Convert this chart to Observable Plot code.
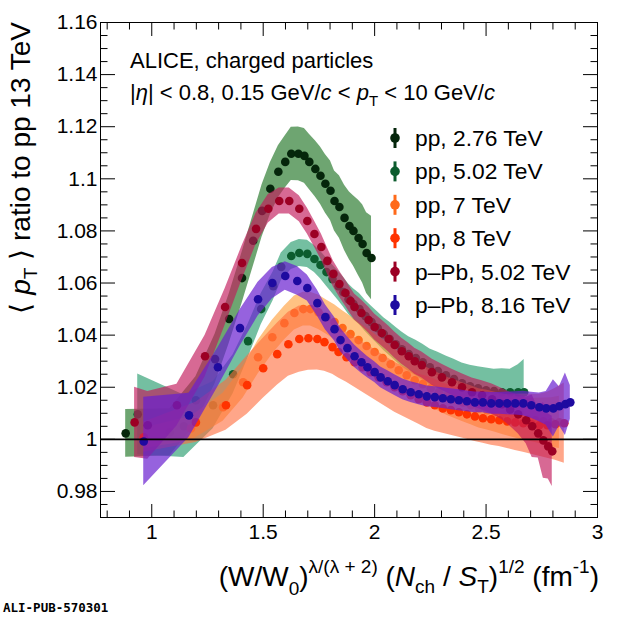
<!DOCTYPE html>
<html><head><meta charset="utf-8">
<script src="https://cdn.jsdelivr.net/npm/d3@7"></script>
<script src="https://cdn.jsdelivr.net/npm/@observablehq/plot@0.6"></script>
<style>
body{margin:0;background:#fff;}
#wrap{position:relative;width:620px;height:620px;font-family:"Liberation Sans",Arial,Helvetica,sans-serif;}
#wrap svg{position:absolute;left:0;top:0;display:block;}
</style></head><body><div id="wrap"></div>
<script>
// ---- data ----
const seriesNames = ["pp, 2.76 TeV","pp, 5.02 TeV","pp, 7 TeV","pp, 8 TeV","p\u2013Pb, 5.02 TeV","p\u2013Pb, 8.16 TeV"];
const markerColors = ["#05260b","#0c5c2e","#ff6a1a","#ff3300","#9c0024","#1e0aa0"];
const bandColors = ["#2a7a2e","#2a9d6f","#ff9a30","#ff6a3a","#c2185b","#6a1fd0"];
const bandOpacity = [0.68,0.65,0.6,0.6,0.65,0.7];

const pp276X = [0.883,1.081,1.198,1.284,1.347,1.405,1.455,1.495,1.532,1.568,1.599,1.626,1.658,1.685,1.707,1.734,1.757,1.779,1.802,1.820,1.842,1.865,1.887,1.905,1.928,1.946,1.964,1.986];
const pp276Y = [1.0023,1.0027,1.0150,1.0308,1.0462,1.0619,1.0762,1.0877,1.0962,1.1027,1.1065,1.1096,1.1096,1.1088,1.1065,1.1038,1.1012,1.0981,1.0954,1.0915,1.0892,1.0850,1.0819,1.0800,1.0773,1.0750,1.0715,1.0696];
const pp276E = [0.0092,0.009,0.009,0.0095,0.0095,0.0098,0.010,0.010,0.010,0.010,0.010,0.0102,0.0103,0.0105,0.0106,0.0108,0.011,0.0112,0.0114,0.0115,0.012,0.0125,0.013,0.0135,0.0145,0.015,0.0155,0.016];

const pp502X = [0.937,1.144,1.275,1.365,1.432,1.491,1.545,1.581,1.626,1.662,1.698,1.730,1.757,1.784,1.811,1.838,1.860,1.883,1.905,1.932,1.959,1.986,2.014,2.041,2.068,2.095,2.122,2.153,2.185,2.216,2.248,2.284,2.320,2.356,2.392,2.428,2.464,2.500,2.536,2.572,2.608,2.644,2.671];
const pp502Y = [1.0096,1.0050,1.0131,1.0250,1.0377,1.0500,1.0588,1.0662,1.0704,1.0715,1.0712,1.0692,1.0669,1.0642,1.0615,1.0588,1.0565,1.0538,1.0519,1.0500,1.0473,1.0450,1.0427,1.0404,1.0385,1.0365,1.0346,1.0327,1.0312,1.0296,1.0277,1.0262,1.0246,1.0231,1.0215,1.0204,1.0196,1.0188,1.0185,1.0181,1.0181,1.0181,1.0181];
const pp502E = [0.0155,0.012,0.009,0.0075,0.0065,0.006,0.0055,0.0053,0.0052,0.0052,0.0052,0.0052,0.0053,0.0054,0.0055,0.0056,0.0057,0.0058,0.0059,0.006,0.006,0.0061,0.0062,0.0063,0.0064,0.0065,0.0066,0.0067,0.0068,0.0069,0.007,0.0072,0.0074,0.0076,0.0078,0.008,0.0083,0.0086,0.0084,0.009,0.0088,0.0105,0.0125];

const pp7X = [0.964,1.176,1.320,1.410,1.477,1.541,1.595,1.640,1.680,1.712,1.748,1.784,1.820,1.856,1.892,1.928,1.964,2.000,2.036,2.072,2.108,2.144,2.180,2.216,2.252,2.288,2.324,2.360,2.396,2.432,2.468,2.505,2.541,2.577,2.613,2.649,2.685,2.721,2.757,2.793,2.829];
const pp7Y = [1.0004,1.0042,1.0123,1.0219,1.0315,1.0392,1.0446,1.0485,1.0500,1.0500,1.0488,1.0469,1.0450,1.0427,1.0404,1.0381,1.0358,1.0335,1.0312,1.0288,1.0265,1.0246,1.0227,1.0212,1.0196,1.0181,1.0165,1.0154,1.0142,1.0131,1.0119,1.0112,1.0104,1.0096,1.0088,1.0081,1.0077,1.0073,1.0069,1.0065,1.0065];
const pp7E = [0.004,0.0046,0.0054,0.006,0.0064,0.0065,0.0065,0.0065,0.0065,0.0065,0.0066,0.0066,0.0067,0.0067,0.0068,0.0068,0.0069,0.0069,0.007,0.007,0.007,0.0071,0.0071,0.0072,0.0072,0.0073,0.0073,0.0074,0.0074,0.0075,0.0075,0.0076,0.0077,0.0078,0.0079,0.008,0.0082,0.0085,0.009,0.0095,0.010];

const pp8X = [0.964,1.198,1.333,1.428,1.500,1.563,1.613,1.662,1.703,1.743,1.775,1.811,1.838,1.874,1.910,1.946,1.982,2.018,2.054,2.090,2.126,2.162,2.198,2.234,2.270,2.306,2.342,2.378,2.414,2.450,2.486,2.523,2.559,2.595,2.631,2.667,2.703,2.739,2.775,2.811,2.851];
const pp8Y = [1.0008,1.0065,1.0131,1.0208,1.0273,1.0327,1.0365,1.0385,1.0388,1.0385,1.0373,1.0354,1.0335,1.0315,1.0296,1.0277,1.0258,1.0238,1.0219,1.0200,1.0185,1.0169,1.0154,1.0142,1.0131,1.0119,1.0112,1.0104,1.0096,1.0088,1.0081,1.0077,1.0073,1.0069,1.0065,1.0062,1.0058,1.0054,1.0054,1.0058,1.0062];
const pp8E = [0.0058,0.0077,0.0096,0.0112,0.0115,0.0119,0.0123,0.0127,0.0123,0.0119,0.0112,0.0104,0.0100,0.0096,0.0096,0.0096,0.0096,0.0096,0.0096,0.0096,0.0096,0.0096,0.0096,0.0100,0.0100,0.0096,0.0096,0.0096,0.0096,0.0096,0.0096,0.0100,0.0100,0.0104,0.0108,0.0112,0.0115,0.0119,0.0127,0.0138,0.0154];

const pPb502X = [0.923,0.982,1.113,1.239,1.329,1.405,1.468,1.523,1.572,1.617,1.662,1.698,1.730,1.761,1.788,1.815,1.842,1.869,1.892,1.910,1.941,1.973,2.000,2.032,2.063,2.090,2.122,2.153,2.180,2.212,2.257,2.302,2.347,2.392,2.437,2.482,2.527,2.572,2.608,2.644,2.680,2.707,2.734,2.757,2.779,2.797];
const pPb502Y = [1.0065,1.0054,1.0131,1.0319,1.0508,1.0677,1.0808,1.0885,1.0915,1.0915,1.0885,1.0838,1.0788,1.0738,1.0685,1.0635,1.0596,1.0562,1.0531,1.0508,1.0485,1.0458,1.0431,1.0408,1.0385,1.0362,1.0338,1.0319,1.0300,1.0285,1.0258,1.0238,1.0219,1.0200,1.0181,1.0169,1.0154,1.0135,1.0115,1.0096,1.0073,1.0050,1.0023,0.9996,0.9973,0.9954];
const pPb502E = [0.0135,0.013,0.008,0.008,0.007,0.0065,0.006,0.0055,0.005,0.005,0.005,0.005,0.005,0.005,0.005,0.005,0.005,0.005,0.005,0.005,0.005,0.005,0.005,0.005,0.005,0.005,0.005,0.005,0.005,0.005,0.005,0.005,0.005,0.0052,0.0054,0.0056,0.0058,0.006,0.0065,0.0075,0.009,0.012,0.0095,0.0145,0.0125,0.0135];

const pPb816X = [0.964,1.167,1.297,1.396,1.477,1.541,1.599,1.653,1.698,1.743,1.779,1.820,1.847,1.878,1.910,1.941,1.968,2.000,2.027,2.059,2.090,2.126,2.162,2.198,2.234,2.270,2.306,2.342,2.378,2.414,2.450,2.486,2.523,2.559,2.595,2.631,2.667,2.703,2.739,2.770,2.802,2.829,2.856,2.878];
const pPb816Y = [0.9992,1.0092,1.0277,1.0427,1.0538,1.0600,1.0627,1.0608,1.0581,1.0523,1.0469,1.0423,1.0381,1.0350,1.0319,1.0296,1.0277,1.0258,1.0238,1.0223,1.0208,1.0192,1.0181,1.0173,1.0165,1.0162,1.0158,1.0154,1.0150,1.0146,1.0142,1.0142,1.0138,1.0138,1.0138,1.0138,1.0138,1.0131,1.0123,1.0119,1.0119,1.0127,1.0135,1.0142];
const pPb816E = [0.017,0.0085,0.0075,0.007,0.0065,0.006,0.0055,0.0055,0.005,0.005,0.0048,0.0046,0.0045,0.0044,0.0043,0.0042,0.0041,0.004,0.004,0.004,0.004,0.004,0.004,0.004,0.004,0.004,0.004,0.004,0.004,0.004,0.004,0.004,0.0042,0.0042,0.0044,0.0045,0.0047,0.005,0.0055,0.0065,0.011,0.0075,0.012,0.0065];

const xTicks = [1,1.5,2,2.5,3];
const yTicks = [0.98,1,1.02,1.04,1.06,1.08,1.1,1.12,1.14,1.16];

// ---- build ----
const seriesX = [pp276X,pp502X,pp7X,pp8X,pPb502X,pPb816X];
const seriesY = [pp276Y,pp502Y,pp7Y,pp8Y,pPb502Y,pPb816Y];
const seriesE = [pp276E,pp502E,pp7E,pp8E,pPb502E,pPb816E];
const series = seriesNames.map((name,i)=>({
  name, color: markerColors[i], band: bandColors[i], op: bandOpacity[i],
  rows: seriesX[i].map((x,j)=>({x, y: seriesY[i][j], lo: seriesY[i][j]-seriesE[i][j], hi: seriesY[i][j]+seriesE[i][j]}))
}));

const xMinor = d3.range(8,31).map(v=>v/10).filter(v=>!xTicks.some(t=>Math.abs(t-v)<1e-9));
const yMinor = d3.range(194,233).map(v=>v/200).filter(v=>!yTicks.some(t=>Math.abs(t-v)<1e-9));
const fmt = d => String(+d.toFixed(2));
const blank = () => "";

const marks = [];
series.forEach(s=>{
  marks.push(Plot.areaY(s.rows,{x:"x",y1:"lo",y2:"hi",fill:s.band,fillOpacity:s.op}));
  marks.push(Plot.dot(s.rows,{x:"x",y:"y",r:4.3,fill:s.color,stroke:"none"}));
});
marks.push(Plot.ruleY([1],{stroke:"black",strokeWidth:1.6}));
marks.push(Plot.frame({stroke:"black",strokeWidth:1}));
// labels
marks.push(Plot.axisY({ticks:yTicks,anchor:"left",tickSize:0,tickPadding:3,tickFormat:fmt,label:null,fontSize:21}));
marks.push(Plot.axisX({ticks:xTicks,anchor:"bottom",tickSize:0,tickPadding:7,tickFormat:fmt,label:null,fontSize:21}));
// inward ticks
marks.push(Plot.axisY({ticks:yTicks,anchor:"left",tickSize:15,dx:15,tickFormat:blank,label:null}));
marks.push(Plot.axisY({ticks:yMinor,anchor:"left",tickSize:7.5,dx:7.5,tickFormat:blank,label:null}));
marks.push(Plot.axisY({ticks:yTicks,anchor:"right",tickSize:15,dx:-15,tickFormat:blank,label:null}));
marks.push(Plot.axisY({ticks:yMinor,anchor:"right",tickSize:7.5,dx:-7.5,tickFormat:blank,label:null}));
marks.push(Plot.axisX({ticks:xTicks,anchor:"bottom",tickSize:13,dy:-13,tickFormat:blank,label:null}));
marks.push(Plot.axisX({ticks:xMinor,anchor:"bottom",tickSize:6.5,dy:-6.5,tickFormat:blank,label:null}));
marks.push(Plot.axisX({ticks:xTicks,anchor:"top",tickSize:13,dy:13,tickFormat:blank,label:null}));
marks.push(Plot.axisX({ticks:xMinor,anchor:"top",tickSize:6.5,dy:6.5,tickFormat:blank,label:null}));

const chart = Plot.plot({
  width:620, height:620,
  marginLeft:100, marginRight:23, marginTop:22, marginBottom:103,
  x:{domain:[0.77,3.0]},
  y:{domain:[0.97,1.16]},
  style:{fontFamily:"'Liberation Sans',Arial,Helvetica,sans-serif",fontSize:"21px",color:"black",background:"white"},
  marks
});
const wrap = document.getElementById("wrap");
wrap.appendChild(chart);

// ---- overlay text: titles, labels, legend ----
const NS = "http://www.w3.org/2000/svg";
const ov = document.createElementNS(NS,"svg");
ov.setAttribute("width",620); ov.setAttribute("height",620);
ov.setAttribute("font-family","'Liberation Sans',Arial,Helvetica,sans-serif");
let html = "";
html += `<text x="130" y="68" font-size="22">ALICE, charged particles</text>`;
html += `<text x="130" y="100" font-size="22">|<tspan font-style="italic">η</tspan>| &lt; 0.8, 0.15 GeV/<tspan font-style="italic">c</tspan> &lt; <tspan font-style="italic">p</tspan><tspan dy="6" font-size="15">T</tspan><tspan dy="-6"> &lt; 10 GeV/</tspan><tspan font-style="italic">c</tspan></text>`;
series.forEach((s,i)=>{
  const cy = 138 + i*33.4;
  html += `<line x1="395" x2="395" y1="${cy-10}" y2="${cy+10}" stroke="${s.color}" stroke-width="3"/>`;
  html += `<circle cx="395" cy="${cy}" r="4.8" fill="${s.color}"/>`;
  html += `<text x="415" y="${cy+8}" font-size="22.8">${s.name}</text>`;
});
html += `<text transform="translate(30,22) rotate(-90)" text-anchor="end" font-size="28">⟨ <tspan font-style="italic">p</tspan><tspan dy="7" font-size="19">T</tspan><tspan dy="-7"> ⟩ ratio to pp 13 TeV</tspan></text>`;
html += `<text x="599" y="586" text-anchor="end" font-size="28">(W/W<tspan dy="9" font-size="19">0</tspan><tspan dy="-9">)</tspan><tspan dy="-13" font-size="19">λ/(λ + 2)</tspan><tspan dy="13"> (</tspan><tspan font-style="italic">N</tspan><tspan dy="7" font-size="19">ch</tspan><tspan dy="-7"> / </tspan><tspan font-style="italic">S</tspan><tspan dy="7" font-size="19">T</tspan><tspan dy="-7">)</tspan><tspan dy="-13" font-size="19">1/2</tspan><tspan dy="13"> (fm</tspan><tspan dy="-13" font-size="19">-1</tspan><tspan dy="13">)</tspan></text>`;
html += `<text x="3" y="612" font-family="'DejaVu Sans Mono',monospace" font-weight="bold" font-size="12.5">ALI-PUB-570301</text>`;
ov.innerHTML = html;
wrap.appendChild(ov);
</script>
</body></html>
